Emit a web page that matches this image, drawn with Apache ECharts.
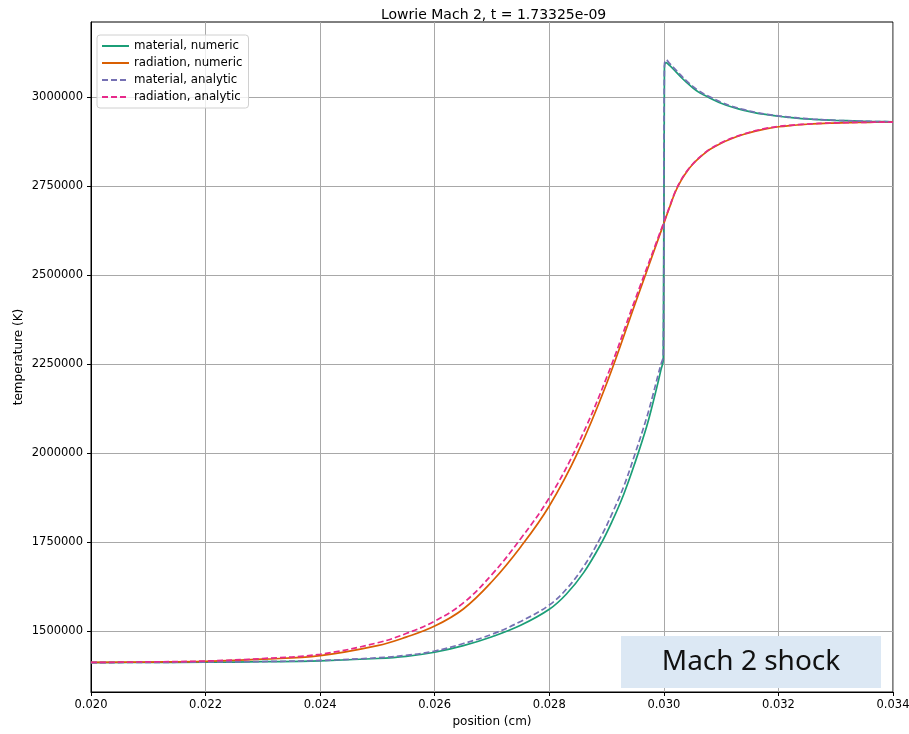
<!DOCTYPE html>
<html>
<head>
<meta charset="utf-8">
<script src="https://cdn.jsdelivr.net/npm/echarts@6/dist/echarts.min.js"></script>
<style>
  html, body { margin: 0; padding: 0; background: #fff; }
  #chart { width: 909px; height: 734px; }
</style>
</head>
<body>
<div id="chart"></div>
<script>
// position (cm) for the material curves, denser around the shock at 0.030
const materialX = [0.020, 0.021, 0.022, 0.023, 0.024, 0.025, 0.0255, 0.026, 0.0265, 0.027, 0.0275, 0.028,
  0.0283, 0.0286, 0.0289, 0.0291, 0.0293, 0.0295, 0.0297, 0.0298, 0.0299, 0.02995, 0.02999, 0.03001, 0.03004,
  0.0301, 0.0302, 0.0303, 0.0304, 0.0305, 0.0306, 0.0307, 0.0308, 0.0310, 0.0312, 0.0314, 0.0316, 0.0318,
  0.0320, 0.0322, 0.0324, 0.0326, 0.0328, 0.0330, 0.0332, 0.0334, 0.0336, 0.0338, 0.0340]
const materialNumeric = [1412500, 1413000, 1413500, 1415000, 1417500, 1424000, 1430000, 1441500, 1460000, 1485000, 1517000, 1562000,
  1605000, 1665000, 1745000, 1810000, 1885000, 1975000, 2075000, 2135000, 2200000, 2235000, 2262000, 3080000, 3096000,
  3088000, 3072000, 3055000, 3040000, 3026000, 3014000, 3005000, 2997000, 2982000, 2971000, 2962000, 2955000, 2950000,
  2945500, 2942000, 2939000, 2937000, 2935500, 2934000, 2933000, 2932000, 2931000, 2930500, 2930000]
const materialAnalytic = [1412500, 1413000, 1414000, 1415500, 1418500, 1426000, 1433000, 1445000, 1466000, 1492000, 1528000, 1574000,
  1619000, 1682000, 1765000, 1832000, 1907000, 2000000, 2100000, 2158000, 2220000, 2250000, 2272000, 3090000, 3104000,
  3094000, 3077000, 3060000, 3044000, 3030000, 3018000, 3008000, 3000000, 2985000, 2973000, 2964000, 2956500, 2951000,
  2946500, 2943000, 2940000, 2937500, 2935500, 2934000, 2933000, 2932000, 2931000, 2930500, 2930000]

// position (cm) for the radiation curves
const radiationX = [0.020, 0.021, 0.022, 0.023, 0.024, 0.025, 0.0255, 0.026, 0.0265, 0.027, 0.0275, 0.028, 0.0285, 0.029,
  0.0295, 0.030, 0.0301, 0.0302, 0.0303, 0.0304, 0.0305, 0.0306, 0.0307, 0.0308, 0.0310, 0.0312, 0.0314, 0.0316, 0.0318,
  0.0320, 0.0322, 0.0324, 0.0326, 0.0328, 0.0330, 0.0332, 0.0334, 0.0336, 0.0338, 0.0340]
const radiationNumeric = [1413000, 1414000, 1416000, 1422000, 1432000, 1460000, 1484000, 1515000, 1563000, 1640000, 1737000, 1852000, 2003000, 2195000,
  2420000, 2645000, 2690000, 2733000, 2765000, 2790000, 2810000, 2826000, 2840000, 2852000, 2870000, 2884000, 2895000, 2904000, 2911000,
  2916000, 2919500, 2922000, 2924000, 2925500, 2926500, 2927500, 2928000, 2928500, 2929000, 2929000]
const radiationAnalytic = [1413000, 1414500, 1417000, 1424000, 1436000, 1468000, 1494000, 1529000, 1580000, 1660000, 1760000, 1875000, 2025000, 2212000,
  2432000, 2648000, 2692000, 2735000, 2767000, 2791000, 2811000, 2827000, 2841000, 2853000, 2871000, 2885000, 2896000, 2905000, 2912000,
  2917000, 2920000, 2922500, 2924500, 2926000, 2927000, 2927800, 2928300, 2928700, 2929000, 2929000]

const yTicks = [1500000, 1750000, 2000000, 2250000, 2500000, 2750000, 3000000]
const seriesNames = ['material, numeric', 'radiation, numeric', 'material, analytic', 'radiation, analytic']

const font = 'DejaVu Sans'
const zip = (xs, ys) => xs.map((x, i) => [x, ys[i]])

const chart = echarts.init(document.getElementById('chart'), null, { renderer: 'canvas' })

function lineSeries(name, data, color, dashed, z) {
  return {
    name: name,
    type: 'line',
    data: data,
    symbol: 'none',
    smooth: 0.4,
    z: z,
    lineStyle: { color: color, width: 1.7, type: dashed ? [6, 3] : 'solid' },
    itemStyle: { color: color }
  }
}

chart.setOption({
  animation: false,
  title: {
    text: 'Lowrie Mach 2, t = 1.73325e-09',
    left: 376,
    top: 3,
    textStyle: { fontFamily: font, fontSize: 14, fontWeight: 'normal', color: '#000' }
  },
  grid: {
    left: 91, right: 16, top: 22, bottom: 42,
    outerBoundsMode: 'none',
    show: true, borderColor: '#000', borderWidth: 1, backgroundColor: '#fff'
  },
  legend: {
    orient: 'vertical',
    left: 97, top: 35,
    data: seriesNames,
    itemWidth: 27, itemHeight: 12, itemGap: 5,
    padding: [5, 6, 5, 4],
    borderColor: '#d0d0d0', borderWidth: 1, borderRadius: 3,
    backgroundColor: 'rgba(255,255,255,0.8)',
    itemStyle: { opacity: 0 },
    textStyle: { fontFamily: font, fontSize: 11.8, color: '#000' }
  },
  xAxis: {
    type: 'value',
    min: 0.020, max: 0.034, interval: 0.002,
    name: 'position (cm)',
    nameLocation: 'middle', nameGap: 24,
    nameTextStyle: { fontFamily: font, fontSize: 12, color: '#000' },
    axisLine: { lineStyle: { color: '#000', width: 1 } },
    axisTick: { show: true, length: 4, lineStyle: { color: '#000' } },
    axisLabel: { fontFamily: font, fontSize: 11.5, color: '#000', margin: 7, formatter: v => v.toFixed(3) },
    splitLine: { show: true, lineStyle: { color: '#a8a8a8', width: 1 } }
  },
  yAxis: {
    type: 'value',
    min: 1330000, max: 3210000,
    name: 'temperature (K)',
    nameLocation: 'middle', nameGap: 66, nameRotate: 90,
    nameMoveOverlap: false,
    nameTextStyle: { fontFamily: font, fontSize: 12, color: '#000' },
    axisLine: { show: true, lineStyle: { color: '#000', width: 1 } },
    axisTick: { show: true, length: 4, lineStyle: { color: '#000' }, customValues: yTicks },
    axisLabel: { fontFamily: font, fontSize: 11.5, color: '#000', margin: 8, customValues: yTicks, formatter: v => String(v) },
    splitLine: { show: true, lineStyle: { color: '#a8a8a8', width: 1 } }
  },
  series: [
    lineSeries(seriesNames[0], zip(materialX, materialNumeric), '#1b9e77', false, 2),
    lineSeries(seriesNames[1], zip(radiationX, radiationNumeric), '#d95f02', false, 3),
    lineSeries(seriesNames[2], zip(materialX, materialAnalytic), '#7570b3', true, 4),
    lineSeries(seriesNames[3], zip(radiationX, radiationAnalytic), '#e7298a', true, 5)
  ],
  graphic: [
    {
      type: 'rect', x: 621, y: 636, z: 100,
      shape: { width: 260, height: 52 },
      style: { fill: '#dce8f4' }
    },
    {
      type: 'text', x: 751, y: 662, z: 101,
      style: { text: 'Mach 2 shock', fontFamily: 'Noto Sans', fontSize: 28, fill: '#111', align: 'center', verticalAlign: 'middle' }
    }
  ]
})
</script>
</body>
</html>
